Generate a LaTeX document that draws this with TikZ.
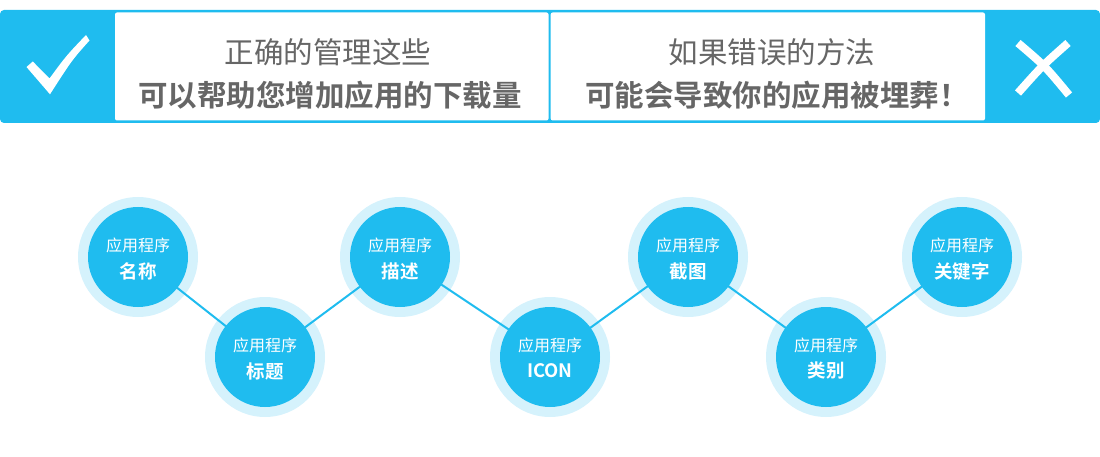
\documentclass[tikz,border=0pt]{standalone}
\usepackage{fontspec}
\setmainfont{Noto Sans CJK SC}[BoldFont={Noto Sans CJK SC Bold}]
\definecolor{bblue}{HTML}{1FBCEF}
\definecolor{halo}{HTML}{D5F2FC}
\definecolor{tgrey}{HTML}{666666}
\tikzset{
  haloring/.style={circle, fill=halo, minimum size=120pt, inner sep=0pt, outer sep=0pt},
  bubble/.style={circle, fill=bblue, minimum size=100pt, inner sep=0pt, outer sep=0pt},
  toptext/.style={text=white, inner sep=0pt, font=\fontsize{16}{18}\selectfont},
  bottext/.style={text=white, inner sep=0pt, font=\fontsize{18.5}{20}\selectfont\bfseries},
  headreg/.style={text=tgrey, inner sep=0pt, font=\fontsize{29.5}{32}\selectfont},
  headbold/.style={text=tgrey, inner sep=0pt, font=\fontsize{29.5}{32}\selectfont\bfseries},
  link/.style={draw=bblue, line width=2pt},
  panel/.style={fill=white, rounded corners=2pt}
}
\begin{document}
\begin{tikzpicture}[x=1pt,y=-1pt]
\useasboundingbox (0,0) rectangle (1100,457);
% banner
\fill[bblue, rounded corners=4pt] (0,10) rectangle (1100,123);
\fill[panel] (115,12.5) rectangle (548.5,120.5);
\fill[panel] (550.7,12.5) rectangle (985,120.5);
% check mark
\fill[white] (26.5,67) -- (32.8,61.5) -- (49.5,78.5) .. controls (66,56) .. (86,35) -- (89.5,40.5) .. controls (72,60) .. (50,94.3) -- cycle;
% cross
\draw[white, line width=8pt] (1018,43) .. controls (1045,66) .. (1069,95);
\draw[white, line width=8pt] (1068,43) .. controls (1042,66) .. (1018,93);
% headings
\node[headreg] (l1) at (328,52) {正确的管理这些};
\node[headbold] (l2) at (330,95) {可以帮助您增加应用的下载量};
\node[headreg] (r1) at (772,52) {如果错误的方法};
\node[headbold] (r2) at (777,95) {可能会导致你的应用被埋葬！};
% halos
\foreach \n/\x/\y in {1/138/257, 2/265/357, 3/400/257, 4/550/357, 5/688/257, 6/826/357, 7/962/257}{
  \node[haloring] (h\n) at (\x,\y) {};
}
% connectors
\draw[link] (h1.center) -- (h2.center) -- (h3.center) -- (h4.center) -- (h5.center) -- (h6.center) -- (h7.center);
% bubbles
\foreach \n/\l in {1/名称, 2/标题, 3/描述, 4/ICON, 5/截图, 6/类别, 7/关键字}{
  \node[bubble] (c\n) at (h\n.center) {};
  \node[toptext] (a\n) at ([yshift=12pt]c\n.center) {应用程序};
  \node[bottext] (b\n) at ([yshift=-14pt]c\n.center) {\l};
}
\end{tikzpicture}
\end{document}
